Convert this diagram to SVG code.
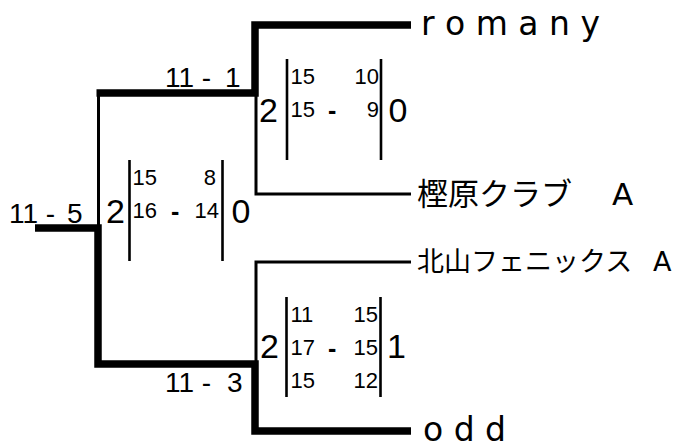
<svg xmlns="http://www.w3.org/2000/svg" width="684" height="443" viewBox="0 0 684 443">
<style>
.thick{fill:none;stroke:#000;stroke-width:7.5;stroke-linejoin:miter;stroke-linecap:butt}
.thin{fill:none;stroke:#000;stroke-width:3}
.bar{fill:none;stroke:#000;stroke-width:2.6}
.lbl{font-family:"Liberation Sans",Arial,sans-serif;font-size:28px;fill:#000}
.big{font-family:"Liberation Sans",Arial,sans-serif;font-size:34px;fill:#000}
.sm{font-family:"Liberation Sans",Arial,sans-serif;font-size:22px;fill:#000}
.dash{font-family:"Liberation Sans",Arial,sans-serif;font-size:25px;font-weight:bold;fill:#000}
.name{font-family:"DejaVu Sans","Noto Sans CJK JP",sans-serif;font-size:33px;fill:#000}
.jp{font-family:"DejaVu Sans","Noto Sans CJK JP",sans-serif;font-size:31px;fill:#000}
.jp2{font-family:"DejaVu Sans","Noto Sans CJK JP",sans-serif;font-size:27px;fill:#000}
</style>
<g id="connectors">
<path class="thin" d="M98.5,93 V228"/>
<path class="thin" d="M256,93 V194 H411"/>
<path class="thin" d="M411,262 H256 V364"/>
<path class="thick" d="M96.5,93 H255 V25 H411"/>
<path class="thick" d="M35,228 H98 V364 H255 V431 H411"/>
</g>
<g id="team-romany"><text class="name" x="421" y="35">r o m a n y</text></g>
<g id="team-kashihara"><text class="jp" x="417" y="205">樫原クラブ<tspan x="612">A</tspan></text></g>
<g id="team-kitayama"><text class="jp2" x="417" y="271">北山フェニックス<tspan x="653">A</tspan></text></g>
<g id="team-odd"><text class="name" x="423" y="441">o d d</text></g>
<g id="label-top"><text class="lbl" x="165" y="87">11 -<tspan x="225">1</tspan></text></g>
<g id="label-final"><text class="lbl" x="9" y="223">11 -<tspan x="67">5</tspan></text></g>
<g id="label-bottom"><text class="lbl" x="165" y="392">11 -<tspan x="227">3</tspan></text></g>
<g id="score-top">
<path class="bar" d="M287,59 V160 M381,59 V160"/>
<text class="big" x="259" y="122">2</text>
<text class="big" x="388.5" y="122">0</text>
<text class="sm" x="290.5" y="84">15</text>
<text class="sm" x="379" y="84" text-anchor="end">10</text>
<text class="sm" x="290.5" y="117">15</text>
<text class="dash" x="328" y="119">-</text>
<text class="sm" x="379" y="117" text-anchor="end">9</text>
</g>
<g id="score-final">
<path class="bar" d="M129.5,160 V261 M222.5,160 V261"/>
<text class="big" x="106" y="223">2</text>
<text class="big" x="231.5" y="223">0</text>
<text class="sm" x="132.5" y="185">15</text>
<text class="sm" x="216" y="185" text-anchor="end">8</text>
<text class="sm" x="132.5" y="218">16</text>
<text class="dash" x="171" y="220">-</text>
<text class="sm" x="219" y="218" text-anchor="end">14</text>
</g>
<g id="score-bottom">
<path class="bar" d="M286.5,297 V397 M380.5,297 V397"/>
<text class="big" x="260" y="358">2</text>
<text class="big" x="387" y="358">1</text>
<text class="sm" x="290.5" y="322">11</text>
<text class="sm" x="378" y="322" text-anchor="end">15</text>
<text class="sm" x="290.5" y="355">17</text>
<text class="dash" x="328" y="357">-</text>
<text class="sm" x="378" y="355" text-anchor="end">15</text>
<text class="sm" x="290.5" y="388">15</text>
<text class="sm" x="378" y="388" text-anchor="end">12</text>
</g>
</svg>
